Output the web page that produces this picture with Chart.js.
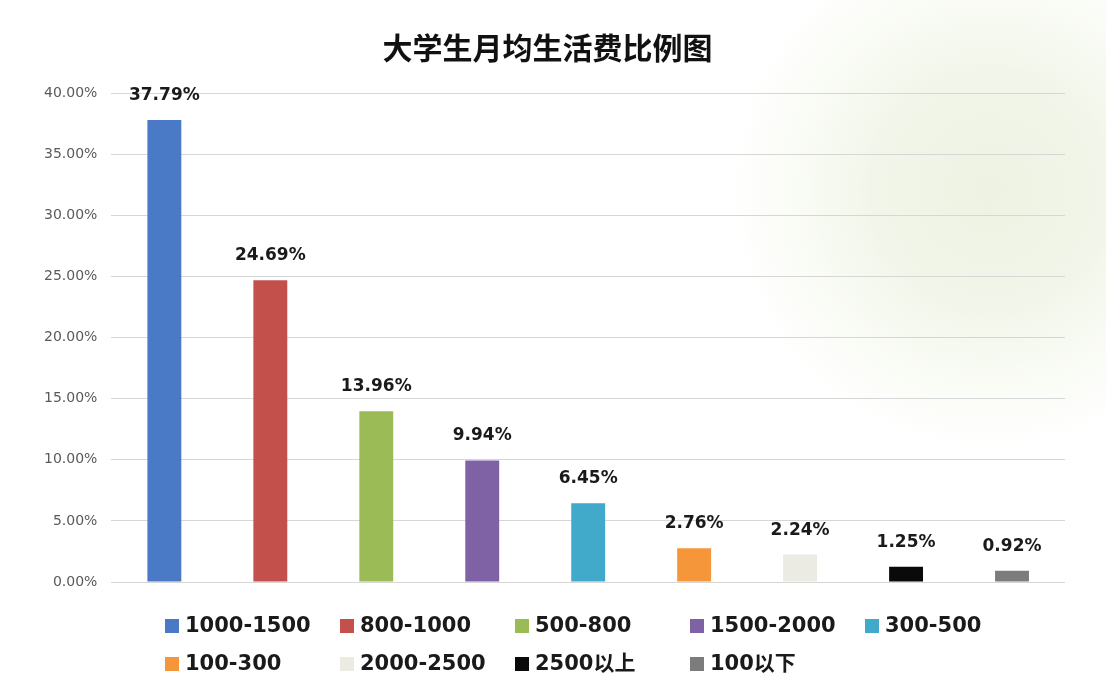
<!DOCTYPE html>
<html>
<head>
<meta charset="utf-8">
<script src="https://cdn.jsdelivr.net/npm/chart.js@4/dist/chart.umd.min.js"></script>
<style>
  html, body { margin: 0; padding: 0; }
  body {
    width: 1106px; height: 690px; overflow: hidden;
    background: radial-gradient(circle at 990px 190px, #edf2e2 0px, #f2f6ea 120px, #fafcf6 200px, #ffffff 260px);
  }
  #wrap { width: 1106px; height: 690px; }
</style>
</head>
<body>
<div id="wrap"><canvas id="chart"></canvas></div>
<script>
const categories = ['1000-1500', '800-1000', '500-800', '1500-2000', '300-500', '100-300', '2000-2500', '2500以上', '100以下'];
const percents = [37.79, 24.69, 13.96, 9.94, 6.45, 2.76, 2.24, 1.25, 0.92];
const barColors = ['#4a7ac6', '#c4504c', '#9bbb57', '#7f62a6', '#41a9c9', '#f5963a', '#ebebe4', '#0a0a0a', '#7c7c7c'];
const yTicks = [0, 5, 10, 15, 20, 25, 30, 35, 40];

const cjk = "'Noto Sans CJK SC', sans-serif";
const latin = "'DejaVu Sans', 'Noto Sans CJK SC', sans-serif";

// value labels on top of each bar
const valueLabels = {
    id: 'valueLabels',
    afterDatasetsDraw(chart) {
        const c = chart.ctx;
        const meta = chart.getDatasetMeta(0);
        c.save();
        c.font = `bold 17px ${latin}`;
        c.fillStyle = '#1a1a1a';
        c.textAlign = 'center';
        c.textBaseline = 'bottom';
        meta.data.forEach((bar, i) => {
            c.fillText(percents[i].toFixed(2) + '%', bar.x, bar.y - 16);
        });
        c.restore();
    }
};

// legend laid out as a grid, like the spreadsheet original
const gridLegend = {
    id: 'gridLegend',
    afterDraw(chart) {
        const c = chart.ctx;
        c.save();
        c.font = `bold 21px ${latin}`;
        c.textBaseline = 'middle';
        categories.forEach((name, i) => {
            const col = i % 5;
            const row = Math.floor(i / 5);
            const x = 165 + col * 175;
            const y = 626 + row * 38;
            c.fillStyle = barColors[i];
            c.fillRect(x, y - 7, 14, 14);
            c.fillStyle = '#1a1a1a';
            c.fillText(name, x + 20, y + 1);
        });
        c.restore();
    }
};

const ctx = document.getElementById('chart');

new Chart(ctx, {
    type: 'bar',
    data: {
        labels: categories,
        datasets: [{
            label: '比例',
            data: percents,
            backgroundColor: barColors,
            borderWidth: 0,
            categoryPercentage: 1,
            barPercentage: 0.32
        }]
    },
    options: {
        responsive: true,
        maintainAspectRatio: false,
        animation: false,
        layout: { padding: { left: 30, right: 41, top: 30, bottom: 100 } },
        plugins: {
            legend: { display: false },
            tooltip: { enabled: false },
            title: {
                display: true,
                text: '大学生月均生活费比例图',
                color: '#111',
                font: { family: cjk, size: 30, weight: 'bold' },
                padding: { top: 0, bottom: 27 }
            }
        },
        scales: {
            x: {
                grid: { display: false },
                border: { display: false },
                ticks: { display: false }
            },
            y: {
                min: 0,
                max: 40,
                afterBuildTicks(axis) {
                    axis.ticks = yTicks.map(v => ({ value: v }));
                },
                grid: { color: '#d6d6d6', lineWidth: 1, drawTicks: false },
                border: { display: false },
                ticks: {
                    color: '#5a5a5a',
                    padding: 14,
                    font: { family: latin, size: 14 },
                    callback: v => v.toFixed(2) + '%'
                }
            }
        }
    },
    plugins: [valueLabels, gridLegend]
});
</script>
</body>
</html>
